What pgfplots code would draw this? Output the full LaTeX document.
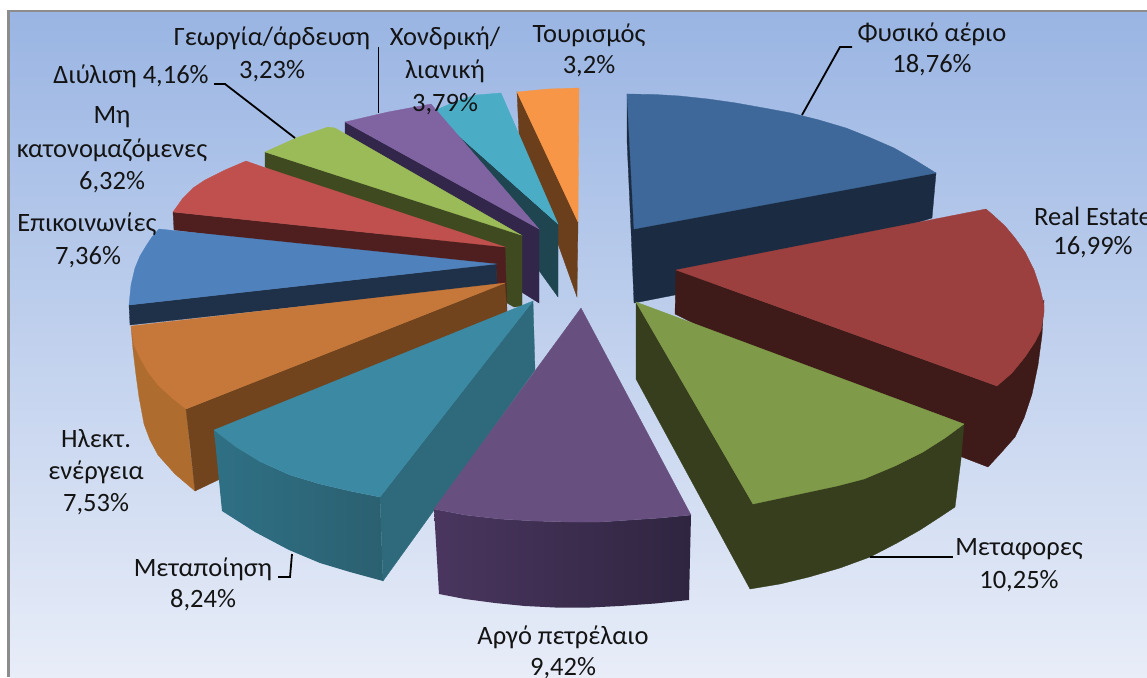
\documentclass[border=0pt]{standalone}
\usepackage{pgfplots}
\usepackage{fontspec}
\setmainfont{Carlito}
\pgfplotsset{compat=1.18}
\definecolor{txt}{HTML}{141414}
\definecolor{bgtop}{HTML}{9AB5E3}
\definecolor{bgbot}{HTML}{E8EDF8}
\definecolor{gasD}{HTML}{1B2C42}
\definecolor{gasT}{HTML}{3E6899}
\definecolor{reD}{HTML}{3E1A18}
\definecolor{reT}{HTML}{9B403E}
\definecolor{trD}{HTML}{363E1E}
\definecolor{trT}{HTML}{7F9A48}
\definecolor{toD}{HTML}{6B3F1C}
\definecolor{toT}{HTML}{F79646}
\definecolor{whD}{HTML}{1E4550}
\definecolor{whT}{HTML}{4BACC6}
\definecolor{agD}{HTML}{32264A}
\definecolor{agT}{HTML}{8064A2}
\definecolor{refD}{HTML}{3F4A21}
\definecolor{refT}{HTML}{9BBB59}
\definecolor{unD}{HTML}{4F1E1E}
\definecolor{unT}{HTML}{C0504D}
\definecolor{coD}{HTML}{1F3049}
\definecolor{coT}{HTML}{4F81BD}
\definecolor{elO}{HTML}{AE6C2E}
\definecolor{elD}{HTML}{71441D}
\definecolor{elT}{HTML}{C6783A}
\definecolor{maL}{HTML}{2F7085}
\definecolor{maR}{HTML}{2B6070}
\definecolor{maD}{HTML}{2E6A7C}
\definecolor{maT}{HTML}{3B89A3}
\definecolor{crL}{HTML}{4A365F}
\definecolor{crR}{HTML}{2F2540}
\definecolor{crT}{HTML}{67507F}
\tikzset{lab/.style={font=\fontsize{26.5}{28}\selectfont,text=txt,inner sep=0pt,anchor=center,overlay}}
\pgfplotsset{
  face/.style={fill=#1,draw=#1,line width=0.3pt},
  lead/.style={draw=black,line width=1.8pt,line join=miter}
}
\begin{document}
\begin{tikzpicture}
\begin{axis}[hide axis,scale only axis,width=1147pt,height=677pt,
  xmin=0,xmax=1147,ymin=0,ymax=677,y dir=reverse,no markers,clip=true,axis on top=false]
% background and frame
\addplot[fill=white,draw=none] coordinates {(0,0)(1147,0)(1147,677)(0,677)} --cycle;
\addplot[fill=black!45,draw=none] coordinates {(7,10)(1147,10)(1147,677)(7,677)} --cycle;
\addplot[draw=none,top color=bgtop,bottom color=bgbot] coordinates {(10,13)(1147,13)(1147,677)(10,677)} --cycle;
% Natural gas
\addplot[face=gasD] coordinates {(627,94)(627,140)(631,230)(634,303)(680,294)(700,290)(932,218)(936,173)} --cycle;
\addplot[face=gasT] coordinates {(627,94)(655,94.5)(680,96)(708,99)(736,103)(764,108)(791,113)(819,120)(846,128)(871,138)(894,148)(915,160)(936,173)(634,229)} --cycle;
% Real estate
\addplot[face=reD] coordinates {(676,270)(675,314)(962,457)(988,467)(1000,454)(1015,437)(1024,418)(1032,394)(1038,365)(1042,335)(1044,300)(997,386)} --cycle;
\addplot[face=reT] coordinates {(676,270)(986,209)(993,215)(1005,226)(1015,238)(1025,252)(1034,270)(1040,288)(1044,305)(1044,312)(1041,330)(1035,342)(1025,357)(1012,373)(997,386)} --cycle;
% Transport
\addplot[face=trD] coordinates {(636,302)(636,379)(750,589)(780,584)(809,577)(840,568)(870,557)(897,543)(920,530)(940,517)(955,507)(961,459)(964,424)(753,504)} --cycle;
\addplot[face=trT] coordinates {(636,302)(964,424)(945,438)(923,452)(895,466)(864,479)(837,486)(809,492)(781,498)(753,504)} --cycle;
% Tourism
\addplot[face=toD] coordinates {(517,92)(519,135)(577,297)(578,222)} --cycle;
\addplot[face=toT] coordinates {(517,92)(548,89)(579,88)(578,222)} --cycle;
% Wholesale
\addplot[face=whD] coordinates {(432,112)(432,125)(540,272)(558,297)(558,224)} --cycle;
\addplot[face=whT] coordinates {(432,112)(445,106)(460,100)(476,95)(501,93)(558,224)} --cycle;
% Agriculture
\addplot[face=agD] coordinates {(345,122)(345,137)(523,293)(539,303)(539,229)} --cycle;
\addplot[face=agT] coordinates {(345,122)(388,112)(431,104)(539,229)} --cycle;
% Refining
\addplot[face=refD] coordinates {(265,152)(265,167)(507,303)(514,307)(522,306)(522,235)} --cycle;
\addplot[face=refT] coordinates {(265,152)(296,138)(328,127)(335,128)(521,235)} --cycle;
% Unnamed
\addplot[face=unD] coordinates {(173,212)(174,230)(497,270)(497,300)(507,312)(505,247)} --cycle;
\addplot[face=unT] coordinates {(173,212)(183,198)(193,188)(205,180)(225,170)(246,161)(263,167)(505,247)} --cycle;
% Communications
\addplot[face=coD] coordinates {(129,305)(130,325)(497,285)(496,264)} --cycle;
\addplot[face=coT] coordinates {(159,229)(152,237)(146,246)(140,256)(135,268)(131,285)(129,305)(496,264)} --cycle;
% Electricity
\addplot[face=elO] coordinates {(131,326)(133,350)(136,375)(139,397)(144,424)(150,440)(158,455)(175,474)(195,491)(190,450)(186,409)} --cycle;
\addplot[face=elD] coordinates {(186,409)(195,491)(218,480)(507,340)(507,312)(505,283)} --cycle;
\addplot[face=elT] coordinates {(131,326)(505,283)(186,409)(172,398)(158,385)(148,372)(140,358)(134,345)} --cycle;
% Manufacturing
\addplot[draw=none,left color=maL,right color=maR] coordinates {(214,430)(222,511)(255,532)(289,550)(320,563)(350,572)(383,581)(380,497)(350,491)(320,484)(290,475)(259,461)(236,447)} --cycle;
\addplot[face=maD] coordinates {(533,301)(535,370)(383,581)(380,497)} --cycle;
\addplot[face=maT] coordinates {(214,430)(533,301)(380,497)(350,491)(320,484)(290,475)(259,461)(236,447)} --cycle;
% Crude oil
\addplot[draw=none,left color=crL,right color=crR] coordinates {(434,509)(439,594)(465,599)(495,603)(525,606)(555,607.5)(590,607.5)(620,606)(655,603.5)(689,600)(691,515)(660,518)(630,520)(600,522)(570,522)(535,521)(500,519)(465,515)} --cycle;
\addplot[face=crT] coordinates {(581,308)(691,515)(660,518)(630,520)(600,522)(570,522)(535,521)(500,519)(465,515)(434,509)} --cycle;
% leaders
\addplot[lead] coordinates {(802,115)(840,47)(852,47)};
\addplot[lead] coordinates {(214,84)(225,84)(295,138)};
\addplot[lead] coordinates {(378.5,47)(378.5,113)};
\addplot[lead] coordinates {(278,577)(290,577)(292,554)};
\addplot[lead] coordinates {(870,557)(953,557)};
% labels
\node[lab] at (axis cs:932,34) {Φυσικό αέριο};
\node[lab] at (axis cs:932,65) {18,76\%};
\node[lab] at (axis cs:1093,216) {Real Estate};
\node[lab] at (axis cs:1093,247) {16,99\%};
\node[lab] at (axis cs:1019,549) {Μεταφορες};
\node[lab] at (axis cs:1019,581) {10,25\%};
\node[lab] at (axis cs:563,637) {Αργό πετρέλαιο};
\node[lab] at (axis cs:563,668) {9,42\%};
\node[lab] at (axis cs:203,569) {Μεταποίηση};
\node[lab] at (axis cs:203,600) {8,24\%};
\node[lab] at (axis cs:96,439) {Ηλεκτ.};
\node[lab] at (axis cs:96,472) {ενέργεια};
\node[lab] at (axis cs:96,504) {7,53\%};
\node[lab] at (axis cs:87,224) {Επικοινωνίες};
\node[lab] at (axis cs:88,257) {7,36\%};
\node[lab] at (axis cs:112,117) {Μη};
\node[lab] at (axis cs:112,150) {κατονομαζόμενες};
\node[lab] at (axis cs:112,182) {6,32\%};
\node[lab] at (axis cs:131,76) {Διύλιση 4,16\%};
\node[lab] at (axis cs:272,38) {Γεωργία/άρδευση};
\node[lab] at (axis cs:272,71) {3,23\%};
\node[lab] at (axis cs:445,38) {Χονδρική/};
\node[lab] at (axis cs:445,71) {λιανική};
\node[lab] at (axis cs:445,104) {3,79\%};
\node[lab] at (axis cs:589,35) {Τουρισμός};
\node[lab] at (axis cs:589,66) {3,2\%};
\end{axis}
\end{tikzpicture}
\end{document}
